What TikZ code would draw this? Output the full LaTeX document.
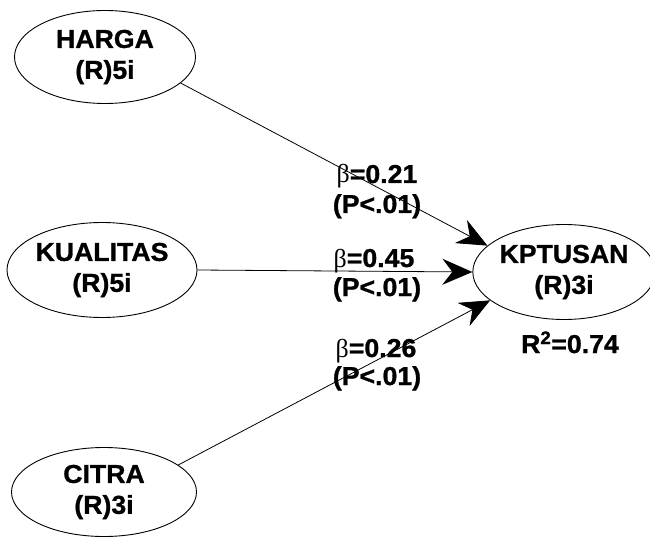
\documentclass[tikz,border=0pt]{standalone}
\usepackage{fontspec}
\setmainfont[FakeStretch=1.03,BoldFeatures={FakeBold=1}]{Liberation Sans}
\newfontfamily\betafont{Liberation Serif}
\usetikzlibrary{shapes.geometric,arrows.meta}
\newcommand{\bet}{{\betafont\mdseries β}}
\begin{document}
\begin{tikzpicture}[x=1bp,y=-1bp,
  latent/.style={ellipse,draw,line width=0.9bp,inner sep=0pt,align=center,
    font=\fontsize{26}{31}\selectfont\bfseries},
  pathline/.style={line width=0.8bp,-{Stealth[length=30bp,width=26bp,inset=10bp]}},
  lbl/.style={anchor=base,inner sep=0pt,font=\fontsize{26}{31}\selectfont\bfseries}]
\useasboundingbox (0,0) rectangle (650,538);
\node[latent,minimum width=181bp,minimum height=93bp] (harga) at (105,57) {HARGA\\(R)5i};
\node[latent,minimum width=190bp,minimum height=95bp] (kualitas) at (102,270) {KUALITAS\\(R)5i};
\node[latent,minimum width=185bp,minimum height=89bp] (citra) at (104,492) {CITRA\\(R)3i};
\node[latent,minimum width=172bp,minimum height=95bp] (kptusan) at (564,272) {KPTUSAN\\(R)3i};
\draw[pathline] (harga.-19) -- (kptusan.161);
\draw[pathline] (kualitas.east) -- (kptusan.west);
\draw[pathline] (citra.20) -- (kptusan.-159);
\node[lbl] (b1) at (377,183) {\bet=0.21};
\node[lbl] (p1) at (377,213) {(P<.01)};
\node[lbl] (b2) at (374,267) {\bet=0.45};
\node[lbl] (p2) at (377,296) {(P<.01)};
\node[lbl] (b3) at (376,357) {\bet=0.26};
\node[lbl] (p3) at (377,385) {(P<.01)};
\node[lbl] (r2) at (570,353) {R\textsuperscript{2}=0.74};
\end{tikzpicture}
\end{document}
